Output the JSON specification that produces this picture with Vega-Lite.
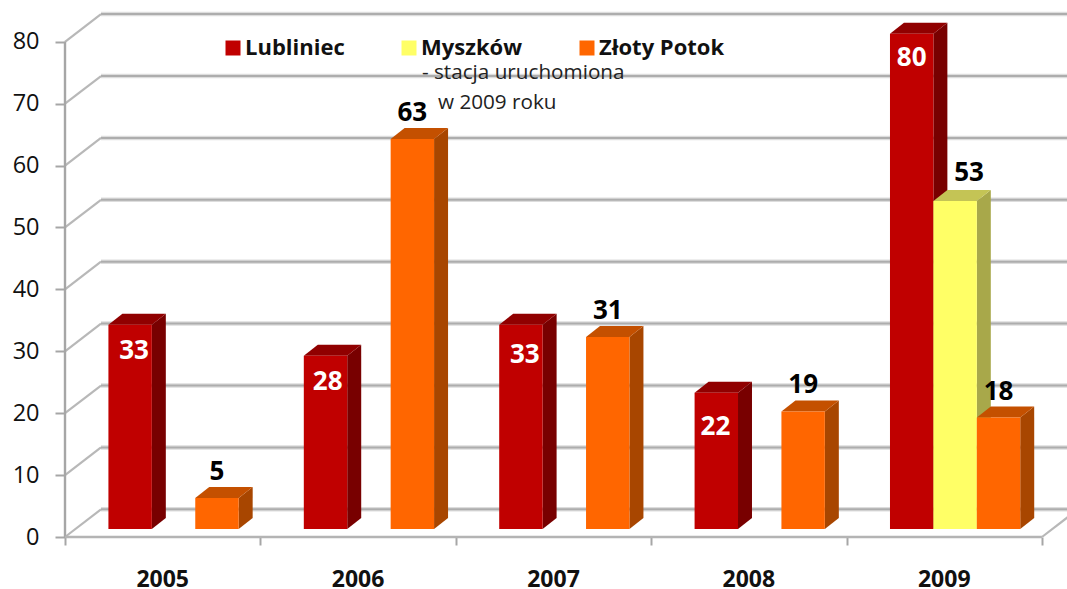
{
"$schema":"https://vega.github.io/schema/vega-lite/v6.json",
"width":1002,"height":537,
"autosize":"none",
"padding":{"left":65,"top":0,"right":0,"bottom":52},
"background":"white",
"config":{"view":{"stroke":null},"text":{"font":"Open Sans"}},
"datasets":{
 "bars":[
  {"year":2005,"series":"Lubliniec","value":33},
  {"year":2005,"series":"Złoty Potok","value":5},
  {"year":2006,"series":"Lubliniec","value":28},
  {"year":2006,"series":"Złoty Potok","value":63},
  {"year":2007,"series":"Lubliniec","value":33},
  {"year":2007,"series":"Złoty Potok","value":31},
  {"year":2008,"series":"Lubliniec","value":22},
  {"year":2008,"series":"Złoty Potok","value":19},
  {"year":2009,"series":"Lubliniec","value":80},
  {"year":2009,"series":"Myszków","value":53},
  {"year":2009,"series":"Złoty Potok","value":18}
 ],
 "grid":[{"v":0},{"v":10},{"v":20},{"v":30},{"v":40},{"v":50},{"v":60},{"v":70},{"v":80}],
 "one":[{}]
},
"layer":[
 {"data":{"name":"grid"},"transform":[{"calculate":"datum.v+4.47","as":"back"}],
  "mark":{"type":"rule","stroke":"#dddddd","strokeWidth":4.5,"clip":true},
  "encoding":{"x":{"datum":0.829,"type":"quantitative","scale":{"domain":[0,23.077],"nice":false,"zero":false},
     "axis":{"values":[0,4.5,9,13.5,18,22.5],"title":null,"grid":false,"domain":false,"tickSize":8,"tickColor":"#a6a6a6","tickWidth":2,
       "labelExpr":"datum.value<22 ? ''+(2005+datum.value/4.5) : ''","labelOffset":97.2,"labelPadding":23,"labelFont":"Open Sans","labelFontWeight":"bold","labelFontSize":23,"labelColor":"#111111","labelOverlap":false,"labelBound":false,"labelFlush":false}},
    "x2":{"datum":23.077},
    "y":{"field":"back","type":"quantitative","scale":{"domain":[0,86.75],"nice":false,"zero":false},
     "axis":{"values":[0,10,20,30,40,50,60,70,80],"title":null,"grid":false,"domain":false,"tickSize":10,"tickColor":"#a6a6a6","tickWidth":2,"labelPadding":16,"labelFont":"Open Sans","labelFontSize":23.5,"labelColor":"#111111"}}}},
 {"data":{"name":"grid"},"transform":[{"calculate":"datum.v+4.47","as":"back"}],
  "mark":{"type":"rule","stroke":"#adadad","strokeWidth":2,"clip":true},
  "encoding":{"x":{"datum":0.829,"type":"quantitative"},"x2":{"datum":23.077},"y":{"field":"back","type":"quantitative"}}},
 {"data":{"name":"grid"},"transform":[{"calculate":"datum.v+4.47","as":"back"}],
  "mark":{"type":"rule","stroke":"#b8b8b8","strokeWidth":2.2},
  "encoding":{"x":{"datum":0,"type":"quantitative"},"x2":{"datum":0.829},"y":{"field":"v","type":"quantitative"},"y2":{"field":"back"}}},
 {"data":{"name":"one"},"mark":{"type":"rule","stroke":"#a6a6a6","strokeWidth":2.4},
  "encoding":{"x":{"datum":0,"type":"quantitative"},"y":{"datum":0,"type":"quantitative"},"y2":{"datum":80}}},
 {"data":{"name":"one"},"mark":{"type":"rule","stroke":"#b4b4b4","strokeWidth":2.6},
  "encoding":{"x":{"datum":0,"type":"quantitative"},"x2":{"datum":22.5},"y":{"datum":0,"type":"quantitative"}}},
 {"data":{"name":"one"},"mark":{"type":"rule","stroke":"#b8b8b8","strokeWidth":2.2},
  "encoding":{"x":{"datum":22.5,"type":"quantitative"},"x2":{"datum":23.329},"y":{"datum":0,"type":"quantitative"},"y2":{"datum":4.47}}},
 {"data":{"name":"bars"},
  "transform":[
   {"calculate":"4.5*(datum.year-2005)+1+indexof(['Lubliniec','Myszków','Złoty Potok'],datum.series)","as":"slot"},
   {"calculate":"[0,1]","as":"k"},{"flatten":["k"]},
   {"calculate":"datum.slot+1+datum.k*0.322","as":"sx"},
   {"calculate":"datum.value+1.29+datum.k*1.78","as":"sy"},
   {"calculate":"1.29+datum.k*1.78","as":"sy2"}],
  "mark":{"type":"area","orient":"vertical"},
  "encoding":{"x":{"field":"sx","type":"quantitative"},"y":{"field":"sy","type":"quantitative","stack":null},"y2":{"field":"sy2"},
   "detail":[{"field":"year"},{"field":"series"}],
   "fill":{"field":"series","type":"nominal","legend":null,"scale":{"domain":["Lubliniec","Myszków","Złoty Potok"],"range":["#780000","#A8A84A","#A84600"]}}}},
 {"data":{"name":"bars"},
  "transform":[
   {"calculate":"4.5*(datum.year-2005)+1+indexof(['Lubliniec','Myszków','Złoty Potok'],datum.series)","as":"slot"},
   {"calculate":"[0,1,2,3]","as":"k"},{"flatten":["k"]},
   {"calculate":"datum.slot+[0,0.322,1,1.322][datum.k]","as":"tx"},
   {"calculate":"datum.value+1.29+[0,0,0,1.78][datum.k]","as":"ty"},
   {"calculate":"datum.value+1.29+[0,1.78,1.78,1.78][datum.k]","as":"ty2"}],
  "mark":{"type":"area","orient":"vertical"},
  "encoding":{"x":{"field":"tx","type":"quantitative"},"y":{"field":"ty","type":"quantitative","stack":null},"y2":{"field":"ty2"},
   "detail":[{"field":"year"},{"field":"series"}],
   "fill":{"field":"series","type":"nominal","legend":null,"scale":{"domain":["Lubliniec","Myszków","Złoty Potok"],"range":["#900000","#C4C455","#C45000"]}}}},
 {"data":{"name":"bars"},
  "transform":[
   {"calculate":"4.5*(datum.year-2005)+1+indexof(['Lubliniec','Myszków','Złoty Potok'],datum.series)","as":"slot"},
   {"calculate":"datum.slot+1","as":"slotEnd"},
   {"calculate":"datum.value+1.29","as":"top"},
   {"calculate":"1.29","as":"base"}],
  "mark":{"type":"rect"},
  "encoding":{"x":{"field":"slot","type":"quantitative"},"x2":{"field":"slotEnd"},"y":{"field":"top","type":"quantitative"},"y2":{"field":"base"},
   "fill":{"field":"series","type":"nominal","scale":{"domain":["Lubliniec","Myszków","Złoty Potok"],"range":["#C00000","#FFFF66","#FF6600"]},
    "legend":{"orient":"none","legendX":157,"legendY":37,"direction":"horizontal","columns":3,"gridAlign":"each","columnPadding":53,"title":null,"padding":0,"symbolType":"square","symbolSize":225,"symbolStrokeWidth":0,"labelOffset":1,"labelFont":"Open Sans","labelFontWeight":"bold","labelFontSize":22,"labelColor":"#111111","labelLimit":300}}}},
 {"data":{"name":"bars"},
  "transform":[
   {"filter":"datum.series==='Lubliniec'"},
   {"calculate":"4.5*(datum.year-2005)+1.5+{'2005':0.09,'2006':0.05,'2007':0.09,'2008':-0.02,'2009':0}[datum.year]","as":"cx"},
   {"calculate":"datum.value+1.29-{'2005':0,'2006':0,'2007':0.65,'2008':1.3,'2009':-0.3}[datum.year]","as":"top"}],
  "mark":{"type":"text","font":"Open Sans","fontWeight":"bold","fontSize":26,"fill":"white","dy":26,"baseline":"middle"},
  "encoding":{"x":{"field":"cx","type":"quantitative"},"y":{"field":"top","type":"quantitative"},"text":{"field":"value","type":"quantitative"}}},
 {"data":{"name":"bars"},
  "transform":[
   {"filter":"datum.series==='Złoty Potok'"},
   {"calculate":"4.5*(datum.year-2005)+3.5","as":"cx"},
   {"calculate":"datum.value+1.29","as":"top"}],
  "mark":{"type":"text","font":"Open Sans","fontWeight":"bold","fontSize":26,"fill":"#000000","dy":-26,"baseline":"middle"},
  "encoding":{"x":{"field":"cx","type":"quantitative"},"y":{"field":"top","type":"quantitative"},"text":{"field":"value","type":"quantitative"}}},
 {"data":{"name":"bars"},
  "transform":[
   {"filter":"datum.series==='Myszków'"},
   {"calculate":"4.5*(datum.year-2005)+2.5","as":"cx"},
   {"calculate":"datum.value+1.29","as":"top"}],
  "mark":{"type":"text","font":"Open Sans","fontWeight":"bold","fontSize":26,"fill":"#000000","dy":-28,"dx":14,"baseline":"middle"},
  "encoding":{"x":{"field":"cx","type":"quantitative"},"y":{"field":"top","type":"quantitative"},"text":{"field":"value","type":"quantitative"}}},
 {"data":{"name":"one"},"mark":{"type":"text","font":"Open Sans","fontSize":20.7,"fill":"#222222","align":"left","baseline":"middle"},
  "encoding":{"x":{"datum":8.22,"type":"quantitative"},"y":{"datum":74.96,"type":"quantitative"},"text":{"value":"- stacja uruchomiona"}}},
 {"data":{"name":"one"},"mark":{"type":"text","font":"Open Sans","fontSize":20.7,"fill":"#222222","align":"left","baseline":"middle"},
  "encoding":{"x":{"datum":8.59,"type":"quantitative"},"y":{"datum":70.1,"type":"quantitative"},"text":{"value":"w 2009 roku"}}}
],
"resolve":{"scale":{"fill":"independent"}}
}
